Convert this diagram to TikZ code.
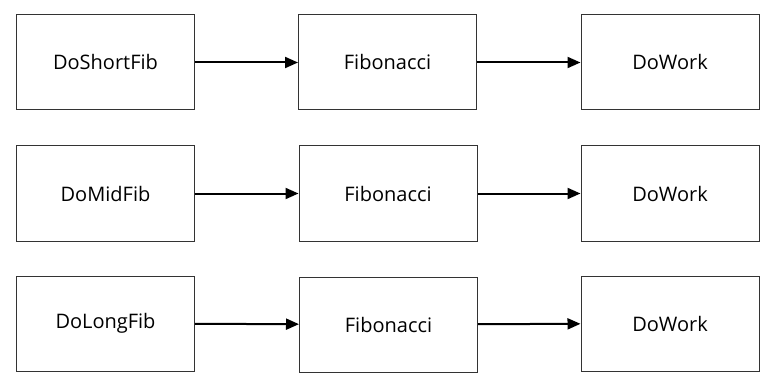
\documentclass[tikz,border=0pt]{standalone}
\usepackage{fontspec}
\setmainfont{Open Sans}
\usetikzlibrary{arrows.meta}
\begin{document}
\begin{tikzpicture}[x=1pt,y=-1pt,
  fnbox/.style={draw=black!80, line width=1pt, minimum width=178pt, minimum height=95pt, inner sep=0pt, font=\fontsize{20}{24}\selectfont},
  call/.style={line width=2pt, -{Triangle[length=13pt,width=11pt]}}]
\useasboundingbox (0,0) rectangle (781,390);
\node[fnbox] (s1) at (105.5,62.5) {DoShortFib};
\node[fnbox] (f1) at (387.5,62.5) {Fibonacci};
\node[fnbox] (w1) at (670,62.5) {DoWork};
\node[fnbox] (s2) at (105.5,193.5) {DoMidFib};
\node[fnbox] (f2) at (388,193.5) {Fibonacci};
\node[fnbox] (w2) at (670,193.5) {DoWork};
\node[fnbox] (s3) at (105.5,323.5) {DoLongFib};
\node[fnbox] (f3) at (388.5,324.5) {Fibonacci};
\node[fnbox] (w3) at (670,323.5) {DoWork};
\draw[call] (s1) -- (f1);
\draw[call] (f1) -- (w1);
\draw[call] (s2) -- (f2);
\draw[call] (f2) -- (w2);
\draw[call] (s3) -- (f3);
\draw[call] (f3) -- (w3);
\end{tikzpicture}
\end{document}
